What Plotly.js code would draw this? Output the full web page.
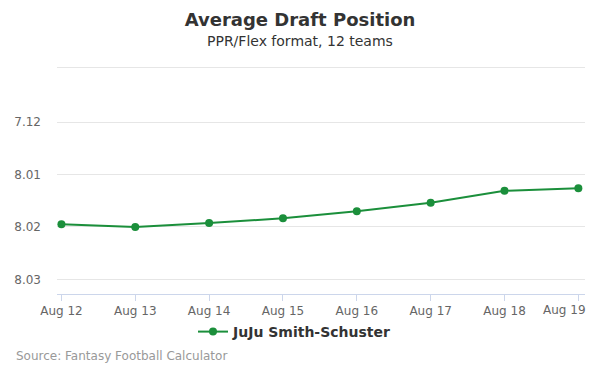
<!DOCTYPE html>
<html><head><meta charset="utf-8">
<script src="https://cdn.plot.ly/plotly-3.0.1.min.js"></script>
<style>body{margin:0;padding:0;background:#fff}#c{width:600px;height:375px}</style>
</head><body><div id="c"></div>
<script>
const dates = ['Aug 12','Aug 13','Aug 14','Aug 15','Aug 16','Aug 17','Aug 18','Aug 19'];
const adp = [85.95, 86.00, 85.925, 85.835, 85.70, 85.54, 85.31, 85.26];
const yTickVals = [82.967, 84, 85, 86, 87];
const yTickText = ['', '7.12', '8.01', '8.02', '8.03'];
const seriesName = 'JuJu Smith-Schuster';

const font = 'DejaVu Sans, sans-serif';
const W = 600, H = 375, L = 57, R = 15, T = 66, B = 81;
const ph = H - T - B, pw = W - L - R;
const py = p => (H - B - p) / ph;
const px = p => (p - L) / pw;
const idx = dates.map((d, i) => i);
const lastI = dates.length - 1;

Plotly.newPlot('c', [{
  x: idx, y: adp, type: 'scatter', mode: 'lines+markers',
  name: seriesName,
  line: {color: '#1b8f3b', width: 2},
  marker: {color: '#1b8f3b', size: 8},
  hoverinfo: 'skip'
}], {
  width: W, height: H,
  margin: {l: L, r: R, t: T, b: B, pad: 0},
  paper_bgcolor: '#fff', plot_bgcolor: '#fff',
  font: {family: font, color: '#666', size: 12},
  title: {text: 'Average Draft Position', font: {family: font, size: 18, color: '#333', weight: 'bold'},
          x: 0.5, xanchor: 'center', xref: 'container', yref: 'container', y: 1 - 20/H, yanchor: 'middle'},
  xaxis: {
    range: [-0.06, 7.09], tickmode: 'array', tickvals: idx,
    ticktext: dates.map((d, i) => i === lastI ? '' : d),
    showgrid: false, zeroline: false, showline: true, linecolor: '#ccd6eb', linewidth: 1,
    ticks: 'outside', ticklen: 6, tickcolor: '#ccd6eb', tickwidth: 1,
    tickfont: {family: font, size: 12, color: '#666'}, fixedrange: true
  },
  yaxis: {
    range: [87.28, 82.929], tickmode: 'array', tickvals: yTickVals, ticktext: yTickText,
    showgrid: true, gridcolor: '#e6e6e6', gridwidth: 1, zeroline: false, showline: false,
    ticks: '', ticklabelstandoff: 15,
    tickfont: {family: font, size: 12, color: '#666'}, fixedrange: true
  },
  showlegend: true,
  legend: {orientation: 'h', x: px(295), xanchor: 'center', xref: 'paper', y: py(332), yanchor: 'middle',
           font: {family: font, size: 14, color: '#333', weight: 'bold'}, itemwidth: 30, bgcolor: 'rgba(0,0,0,0)'},
  annotations: [
    {text: 'PPR/Flex format, 12 teams', xref: 'paper', yref: 'paper', x: px(300), y: py(41), xanchor: 'center', yanchor: 'middle',
     showarrow: false, font: {family: font, size: 14, color: '#333'}},
    {text: dates[lastI], xref: 'paper', yref: 'paper', x: px(588), y: py(310), xanchor: 'right', yanchor: 'middle',
     showarrow: false, font: {family: font, size: 12, color: '#666'}},
    {text: 'Source: Fantasy Football Calculator', xref: 'paper', yref: 'paper', x: px(14), y: py(356), xanchor: 'left', yanchor: 'middle',
     showarrow: false, font: {family: font, size: 12, color: '#999'}}
  ]
}, {displayModeBar: false, staticPlot: true});
</script></body></html>
